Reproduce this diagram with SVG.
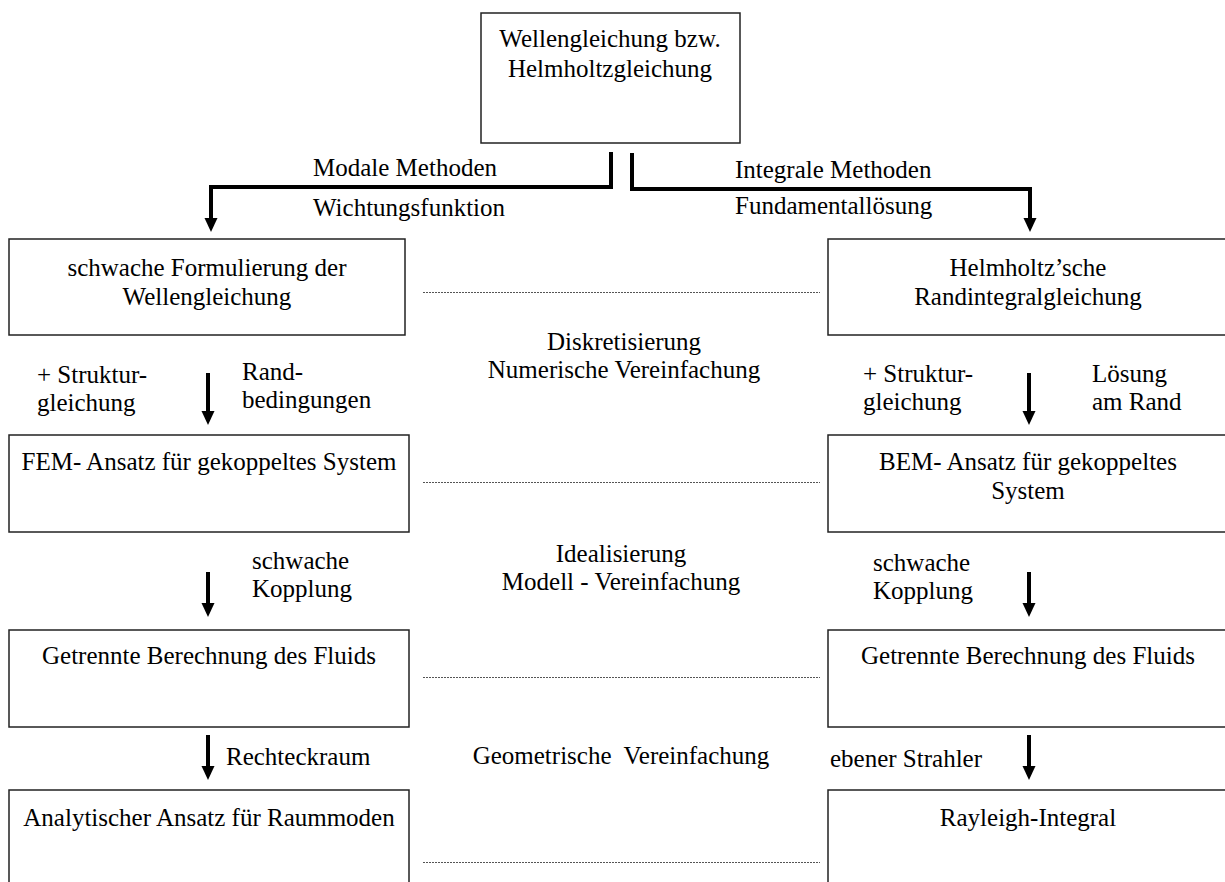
<svg xmlns="http://www.w3.org/2000/svg" width="1225" height="882" viewBox="0 0 1225 882">
<style>
  text { font-family: "Liberation Serif", "Times New Roman", serif; font-size: 25px; fill: #000; }
  .c { text-anchor: middle; }
  .box { fill: #fff; stroke: #222; stroke-width: 1.5; }
  .conn { fill: none; stroke: #000; stroke-width: 4; }
  .dot { fill: none; stroke: #555; stroke-width: 1; stroke-dasharray: 2 1; }
</style>
<defs>
  <marker id="ah" viewBox="0 0 14 14" markerWidth="14" markerHeight="14" refX="3" refY="7" orient="auto" markerUnits="userSpaceOnUse">
    <path d="M0,0.5 L14,7 L0,13.5 z" fill="#000"/>
  </marker>
</defs>
<rect width="1225" height="882" fill="#fff"/>

<g id="n-top">
  <rect class="box" x="481" y="13" width="259" height="130"/>
  <text class="c" x="610" y="47">Wellengleichung bzw.</text>
  <text class="c" x="610" y="77">Helmholtzgleichung</text>
</g>

<g id="n-schwach">
  <rect class="box" x="9" y="239" width="396" height="96"/>
  <text class="c" x="207" y="276">schwache Formulierung der</text>
  <text class="c" x="207" y="305">Wellengleichung</text>
</g>
<g id="n-helmholtz">
  <rect class="box" x="828" y="239" width="400" height="96"/>
  <text class="c" x="1028" y="276">Helmholtz’sche</text>
  <text class="c" x="1028" y="305">Randintegralgleichung</text>
</g>

<g id="n-fem">
  <rect class="box" x="9" y="435" width="400" height="97"/>
  <text class="c" x="209" y="470">FEM- Ansatz für gekoppeltes System</text>
</g>
<g id="n-bem">
  <rect class="box" x="828" y="435" width="400" height="97"/>
  <text class="c" x="1028" y="470">BEM- Ansatz für gekoppeltes</text>
  <text class="c" x="1028" y="499">System</text>
</g>

<g id="n-getrennt-l">
  <rect class="box" x="9" y="630" width="400" height="97"/>
  <text class="c" x="209" y="664">Getrennte Berechnung des Fluids</text>
</g>
<g id="n-getrennt-r">
  <rect class="box" x="828" y="630" width="400" height="97"/>
  <text class="c" x="1028" y="664">Getrennte Berechnung des Fluids</text>
</g>

<g id="n-analytisch">
  <rect class="box" x="9" y="790" width="400" height="100"/>
  <text class="c" x="209" y="826">Analytischer Ansatz für Raummoden</text>
</g>
<g id="n-rayleigh">
  <rect class="box" x="828" y="790" width="400" height="100"/>
  <text class="c" x="1028" y="826">Rayleigh-Integral</text>
</g>

<g id="connectors">
  <path class="conn" d="M611,152 V187 H211 V221" marker-end="url(#ah)"/>
  <path class="conn" d="M632,153 V189 H1030 V221" marker-end="url(#ah)"/>
  <line class="conn" x1="208" y1="373" x2="208" y2="414" marker-end="url(#ah)"/>
  <line class="conn" x1="1029" y1="373" x2="1029" y2="414" marker-end="url(#ah)"/>
  <line class="conn" x1="208" y1="572" x2="208" y2="606" marker-end="url(#ah)"/>
  <line class="conn" x1="1029" y1="572" x2="1029" y2="606" marker-end="url(#ah)"/>
  <line class="conn" x1="208" y1="735" x2="208" y2="769" marker-end="url(#ah)"/>
  <line class="conn" x1="1029" y1="735" x2="1029" y2="769" marker-end="url(#ah)"/>
  <line class="dot" x1="423" y1="292.5" x2="820" y2="292.5"/>
  <line class="dot" x1="423" y1="482.5" x2="820" y2="482.5"/>
  <line class="dot" x1="423" y1="677.5" x2="820" y2="677.5"/>
  <line class="dot" x1="423" y1="862.5" x2="820" y2="862.5"/>
</g>

<g id="labels">
  <text x="313" y="176">Modale Methoden</text>
  <text x="313" y="216">Wichtungsfunktion</text>
  <text x="735" y="178">Integrale Methoden</text>
  <text x="735" y="214">Fundamentallösung</text>

  <text class="c" x="624" y="350">Diskretisierung</text>
  <text class="c" x="624" y="378">Numerische Vereinfachung</text>
  <text x="37" y="383">+ Struktur-</text>
  <text x="37" y="411">gleichung</text>
  <text x="242" y="380">Rand-</text>
  <text x="242" y="408">bedingungen</text>
  <text x="863" y="382">+ Struktur-</text>
  <text x="863" y="410">gleichung</text>
  <text x="1092" y="382">Lösung</text>
  <text x="1092" y="410">am Rand</text>

  <text class="c" x="621" y="562">Idealisierung</text>
  <text class="c" x="621" y="590">Modell - Vereinfachung</text>
  <text x="252" y="569">schwache</text>
  <text x="252" y="597">Kopplung</text>
  <text x="873" y="571">schwache</text>
  <text x="873" y="599">Kopplung</text>

  <text x="226" y="765">Rechteckraum</text>
  <text class="c" x="621" y="764" xml:space="preserve">Geometrische  Vereinfachung</text>
  <text x="830" y="767">ebener Strahler</text>
</g>
</svg>
